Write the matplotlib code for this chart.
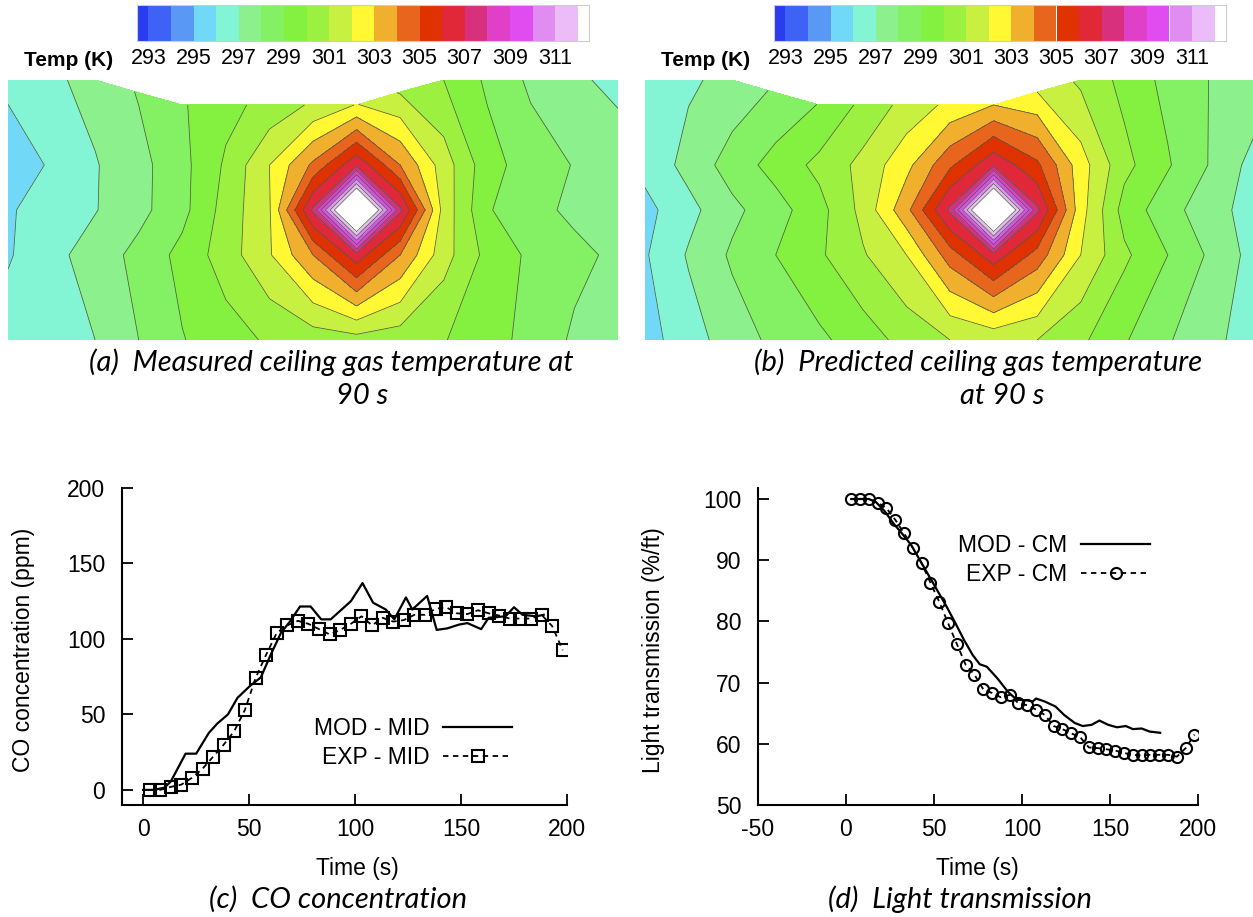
import numpy as np
import matplotlib
matplotlib.use("Agg")
import matplotlib.pyplot as plt

# ---------------- data ----------------
# colour scale (K): half cell at each end
temp_bounds = [292.5] + list(range(293, 313)) + [312.5]
temp_colors = ['#2a3cf0', '#3d62f5', '#5a98f5', '#72d8f8', '#84f5d4', '#8cf08c',
               '#84f064', '#84f040', '#9cf040', '#c8f040', '#fff833', '#f0b02e',
               '#e8651e', '#e03200', '#e02838', '#d8307c', '#e040c8', '#e04cf0',
               '#e08cf0', '#ecbcf8', '#ffffff']
temp_ticks = list(range(293, 312, 2))

# ceiling grid (normalised), 15 columns x 5 rows (top row has the notch)
grid_x = [0.0, 0.0714, 0.1429, 0.2143, 0.2857, 0.3571, 0.4286, 0.5, 0.5714,
          0.6429, 0.7143, 0.7857, 0.8571, 0.9286, 1.0]
grid_rows = [0.673, 0.5, 0.327, 0.0]
top_y = [1.0, 1.0, 1.0, 0.951, 0.904, 0.904, 0.904, 0.904, 0.904, 0.954,
         1.0, 1.0, 1.0, 1.0, 1.0]

temp_measured = [
    [296.2, 296.8, 297.35, 298.07, 298.9, 299.7, 300.33, 301.16, 302.05, 300.92, 300.0, 298.83, 297.81, 297.2, 296.7],
    [295.5, 296.1, 296.93, 297.67, 298.7, 300.15, 302.0, 304.2, 306.8, 304.0, 301.5, 299.4, 298.5, 297.95, 297.6],
    [295.9, 296.41, 296.95, 297.7, 298.7, 300.4, 301.9, 307.2, 317.0, 307.2, 301.6, 299.1, 298.3, 297.8, 297.5],
    [295.9, 296.7, 297.45, 298.3, 299.3, 300.5, 301.9, 304.0, 306.6, 304.0, 301.4, 299.7, 298.8, 298.25, 297.8],
    [296.5, 296.75, 297.0, 298.0, 298.95, 299.55, 300.15, 300.45, 300.6, 300.4, 300.05, 299.45, 298.65, 297.85, 297.55],
]
temp_predicted = [
    [296.6, 296.85, 297.3, 298.15, 299.05, 300.25, 301.35, 302.25, 303.0, 302.0, 300.8, 299.7, 298.7, 297.95, 297.7],
    [296.3, 297.33, 298.45, 299.38, 300.27, 301.3, 302.7, 304.8, 306.8, 305.2, 302.45, 300.3, 299.1, 297.9, 296.6],
    [295.7, 296.7, 297.75, 298.6, 299.65, 301.3, 303.7, 307.2, 317.0, 307.2, 302.4, 299.6, 298.4, 297.35, 296.6],
    [295.9, 297.1, 298.15, 299.0, 299.85, 300.9, 302.0, 304.5, 306.6, 304.6, 302.0, 300.2, 299.0, 297.8, 296.6],
    [295.6, 296.55, 297.5, 298.25, 298.8, 299.5, 300.35, 301.0, 301.3, 301.0, 300.2, 299.1, 298.1, 297.2, 296.6],
]

# CO concentration (ppm)
co_mod_t = [0, 5, 10, 13, 20, 25, 31, 35, 40, 44.5, 50.5, 55.5, 60, 65, 69.5, 74, 79,
            84, 88.5, 98, 103.5, 108.5, 114.5, 118.5, 124, 127, 134, 138.5, 143.5,
            149, 153, 159.5, 163, 171, 175, 179, 185.5, 189]
co_mod = [0, 0, 1.5, 5.5, 24, 24, 37.8, 44, 50, 61, 69, 74.5, 89, 104, 112, 121.5,
          121.5, 113, 113, 125, 137, 124, 119.5, 113, 127.5, 119.5, 128.5, 106, 107,
          109.5, 110.5, 106.5, 114, 115, 121, 116, 115, 116]
co_exp_t = list(range(3, 199, 5))
co_exp = [0, 0, 2, 3.5, 8, 14, 22, 30, 39, 53, 74, 89.5, 104, 109, 112, 110, 106.5,
          103, 106, 110, 115, 109, 114, 111.5, 112.5, 116, 116, 120, 121, 117, 116.5,
          119, 117, 115.5, 113.5, 113.5, 113.5, 116, 108.5, 92.5]

# light transmission (%/ft)
lt_mod_t = [3, 13, 17, 22, 27, 32, 37, 42, 47, 52, 57, 62, 67, 72, 76, 80, 86, 92,
            97, 103, 106, 108, 113, 119, 124, 130, 134.5, 139.5, 144, 149, 154,
            159, 163, 168, 172.5, 178.5]
lt_mod = [100, 100, 99.5, 98, 96, 94.3, 92.5, 90, 87.5, 85, 82.5, 79.8, 77, 74.5,
          73, 72.6, 70.7, 68.5, 67.2, 67.1, 66.9, 67.4, 66.9, 66.1, 64.7, 63.4,
          62.9, 63.1, 63.8, 63.1, 62.7, 62.9, 62.4, 62.5, 62.0, 61.8]
lt_exp_t = list(range(3, 199, 5))
lt_exp = [100, 100, 100, 99.4, 98.5, 96.6, 94.4, 92, 89.5, 86.3, 83.2, 79.7, 76.3,
          72.9, 71.3, 68.9, 68.3, 67.6, 68, 66.6, 66.3, 65.6, 64.7, 62.9, 62.4,
          61.7, 61.1, 59.4, 59.3, 59.1, 58.9, 58.5, 58.2, 58.1, 58.2, 58.2, 58.2,
          57.9, 59.3, 61.5]

# ---------------- layout helpers ----------------
W, H = 1253, 917
fig = plt.figure(figsize=(W / 100, H / 100), dpi=100)
plt.rcParams['font.family'] = ['Liberation Sans', 'DejaVu Sans']
plt.rcParams['axes.unicode_minus'] = False


def px_axes(x0, y0, x1, y1):
    return fig.add_axes([x0 / W, 1 - y1 / H, (x1 - x0) / W, (y1 - y0) / H])


def fig_text(x, y, s, **kw):
    fig.text(x / W, 1 - y / H, s, **kw)


levels = [280] + list(range(293, 313)) + [330]


def draw_ceiling(ox, temps):
    # colour bar
    cax = px_axes(ox + 129, 5, ox + 581, 41)
    cax.barh(0, np.diff(temp_bounds), left=temp_bounds[:-1], height=1,
             color=temp_colors, edgecolor='none')
    cax.set_xlim(temp_bounds[0], temp_bounds[-1])
    cax.set_ylim(-0.5, 0.5)
    cax.set_yticks([])
    cax.set_xticks(temp_ticks)
    cax.tick_params(axis='x', length=0, labelsize=15.5, pad=5)
    for sp in cax.spines.values():
        sp.set_color('#cccccc')
        sp.set_linewidth(0.8)
    fig_text(ox + 105, 61, 'Temp (K)', ha='right', va='center',
             fontsize=15, fontweight='bold')

    # contour map
    ax = px_axes(ox, 80, ox + 610, 340)
    X = np.tile(grid_x, (5, 1))
    Y = np.array([top_y] + [[r] * len(grid_x) for r in grid_rows])
    Z = np.array(temps)
    ax.contourf(X, Y, Z, levels=levels, colors=temp_colors)
    ax.contour(X, Y, Z, levels=levels[1:-1], colors='#4d5d45', linewidths=0.55)
    ax.set_xlim(0, 1)
    ax.set_ylim(0, 1)
    ax.axis('off')


draw_ceiling(8, temp_measured)
draw_ceiling(645, temp_predicted)

cap_kw = dict(ha='center', va='center', fontsize=21, style='italic',
              family=['Lato', 'DejaVu Sans'])
fig_text(331, 362, '(a)  Measured ceiling gas temperature at', **cap_kw)
fig_text(362, 396, '90 s', **cap_kw)
fig_text(978, 362, '(b)  Predicted ceiling gas temperature', **cap_kw)
fig_text(1002, 396, 'at 90 s', **cap_kw)
fig_text(338, 899, '(c)  CO concentration', **cap_kw)
fig_text(960, 899, '(d)  Light transmission', **cap_kw)


def style_axes(ax):
    for side in ('top', 'right'):
        ax.spines[side].set_visible(False)
    for side in ('left', 'bottom'):
        ax.spines[side].set_linewidth(1.5)
    ax.tick_params(direction='in', length=8, width=1.3, labelsize=16.5)
    ax.tick_params(axis='y', pad=12)
    ax.tick_params(axis='x', pad=9)


# ---- (c) CO concentration ----
ax_c = px_axes(122, 488, 567, 805)
ax_c.plot(co_mod_t, co_mod, color='black', lw=1.6, label='MOD - MID')
ax_c.plot(co_exp_t, co_exp, color='black', lw=1.3, ls=(0, (3, 2.5)), marker='s',
          markersize=8, markerfacecolor='none', markeredgewidth=1.5,
          label='EXP - MID')
ax_c.set_xlim(-10, 200)
ax_c.set_ylim(-10, 200)
ax_c.set_xticks([0, 50, 100, 150, 200])
ax_c.set_yticks([0, 50, 100, 150, 200])
style_axes(ax_c)
ax_c.set_xlabel('Time (s)', fontsize=16.5)
ax_c.set_ylabel('CO concentration (ppm)', fontsize=16.5)
ax_c.xaxis.set_label_coords(0.53, -0.165)
ax_c.yaxis.set_label_coords(-0.196, 0.49)
ax_c.legend(loc='center right', bbox_to_anchor=((512 - 122) / 445, (805 - 743) / 317),
            frameon=False, markerfirst=False, fontsize=16.5, handlelength=3.0,
            handletextpad=0.6, labelspacing=0.3, numpoints=1, borderpad=0,
            borderaxespad=0)

# ---- (d) Light transmission ----
ax_d = px_axes(758, 488, 1198, 805)
ax_d.plot(lt_mod_t, lt_mod, color='black', lw=1.6, label='MOD - CM')
ax_d.plot(lt_exp_t, lt_exp, color='black', lw=1.3, ls=(0, (3, 2.5)), marker='o',
          markersize=8, markerfacecolor='none', markeredgewidth=1.5,
          label='EXP - CM')
ax_d.set_xlim(-50, 200)
ax_d.set_ylim(50, 101.8)
ax_d.set_xticks([-50, 0, 50, 100, 150, 200])
ax_d.set_yticks([50, 60, 70, 80, 90, 100])
style_axes(ax_d)
ax_d.set_xlabel('Time (s)', fontsize=16.5)
ax_d.set_ylabel('Light transmission (%/ft)', fontsize=16.5)
ax_d.xaxis.set_label_coords(0.498, -0.165)
ax_d.yaxis.set_label_coords(-0.211, 0.49)
ax_d.legend(loc='center right', bbox_to_anchor=((1150 - 758) / 440, (805 - 560) / 317),
            frameon=False, markerfirst=False, fontsize=16.5, handlelength=3.0,
            handletextpad=0.6, labelspacing=0.3, numpoints=1, borderpad=0,
            borderaxespad=0)

fig.savefig('out.png', dpi=100)
